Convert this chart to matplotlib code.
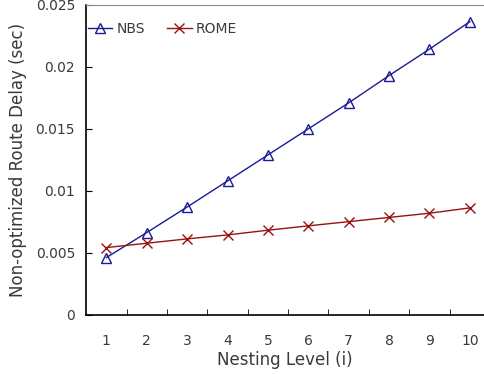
import matplotlib
matplotlib.use("Agg")
import matplotlib.pyplot as plt
from matplotlib.ticker import FixedLocator

# data
levels = [1, 2, 3, 4, 5, 6, 7, 8, 9, 10]
nbs = [0.00462, 0.00664, 0.0087, 0.0108, 0.0129, 0.01500, 0.0171, 0.0193, 0.02143, 0.02365]
rome = [0.00543, 0.00578, 0.00613, 0.00645, 0.00683, 0.00718, 0.00752, 0.00786, 0.0082, 0.00863]
y_ticks = [0, 0.005, 0.01, 0.015, 0.02, 0.025]
y_labels = ["0", "0.005", "0.01", "0.015", "0.02", "0.025"]

txt = "#3a3a3a"
fig = plt.figure(figsize=(4.84, 3.74), dpi=100)
ax = fig.add_axes([0.178, 0.158, 0.822, 0.829])

ax.plot(levels, nbs, color="#1a1a99", lw=1, marker="^", ms=6.5, mfc="none",
        mec="#1a1a99", mew=1, label="NBS")
ax.plot(levels, rome, color="#991111", lw=1, marker="x", ms=6.5,
        mec="#991111", mew=1, label="ROME")

ax.set_xlim(0.5, 10.35)
ax.set_ylim(0, 0.025)
ax.set_xticks(levels)
ax.set_xticklabels([str(v) for v in levels])
ax.xaxis.set_minor_locator(FixedLocator([v + 0.5 for v in levels]))
ax.tick_params(axis="x", which="major", length=0, pad=14, labelsize=10, labelcolor=txt)
ax.tick_params(axis="x", which="minor", direction="in", length=4)
ax.set_yticks(y_ticks)
ax.set_yticklabels(y_labels)
ax.tick_params(axis="y", direction="in", length=4, pad=8, labelsize=10, labelcolor=txt)

ax.spines["right"].set_visible(False)
ax.spines["top"].set_color("#888888")
ax.spines["left"].set_linewidth(1.2)
ax.spines["bottom"].set_linewidth(1.2)

ax.set_xlabel("Nesting Level (i)", fontsize=12, color=txt, labelpad=2)
ax.set_ylabel("Non-optimized Route Delay (sec)", fontsize=12, color=txt, labelpad=6)

leg = ax.legend(loc="upper left", ncol=2, frameon=False, fontsize=10,
                handlelength=1.75, columnspacing=1.6, borderaxespad=0,
                borderpad=0.2, handletextpad=0.3, bbox_to_anchor=(-0.002, 0.955))
for t in leg.get_texts():
    t.set_color(txt)

fig.savefig("out.png", dpi=100)
